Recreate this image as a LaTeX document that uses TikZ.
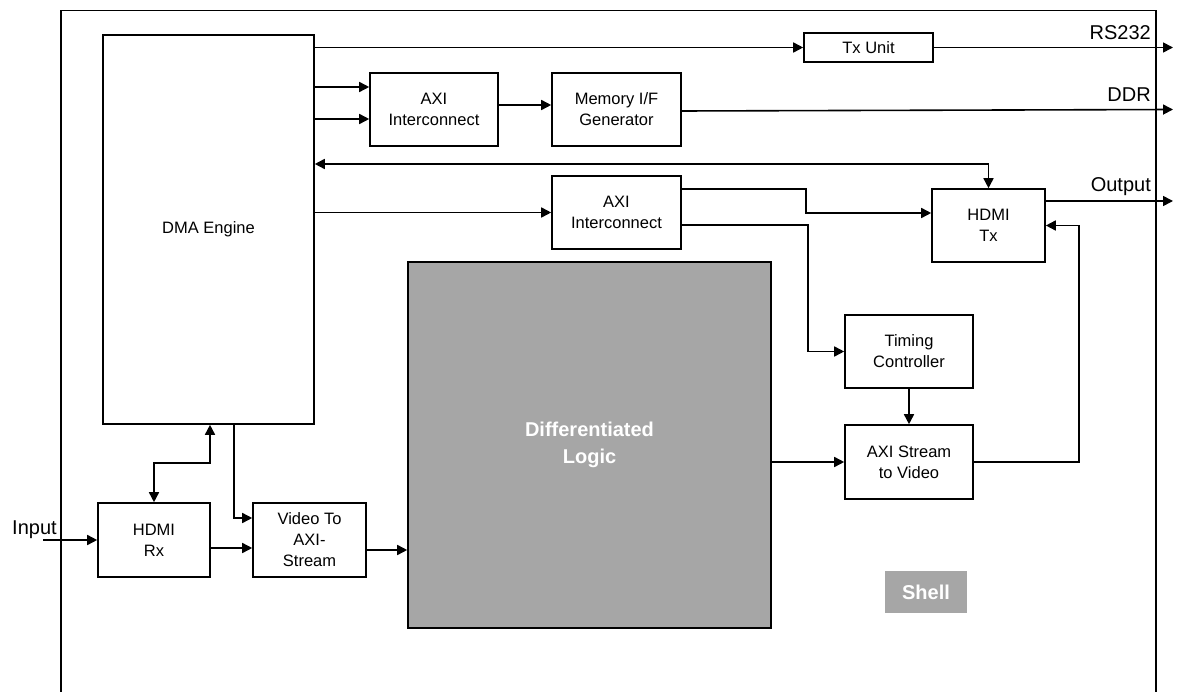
\documentclass[tikz,border=0pt]{standalone}
\usepackage{fontspec}
\setmainfont{Liberation Sans}
\usepackage{tikz}
\usetikzlibrary{calc,arrows.meta}
\definecolor{logicgray}{HTML}{A6A6A6}

\begin{document}
\begin{tikzpicture}[x=1pt,y=-1pt,
		blk/.style={draw,line width=1.6pt,inner sep=0pt,align=center,
			font=\fontsize{16.5}{21}\selectfont},
		arr/.style={line width=1.6pt,-{Triangle[length=10pt,width=10pt]}},
		arrs/.style={line width=1.6pt,{Triangle[length=10pt,width=10pt]}-{Triangle[length=10pt,width=10pt]}},
		lbl/.style={font=\fontsize{20}{24}\selectfont,inner sep=0pt}]
			\useasboundingbox (0,0) rectangle (1177,692);
			%shell frame
			\draw[line width=1.5pt] (61,10.5) rectangle (1156,710);
			
			%blocks
			\node[blk,minimum width=211pt,minimum height=389pt] (dma) at (208.5,229.5) {DMA Engine};
			\node[blk,minimum width=129pt,minimum height=29pt] (txu) at (868.5,47.5) {Tx Unit};
			\node[blk,minimum width=128pt,minimum height=73pt] (axia) at (434,109.5) {AXI\\Interconnect};
			\node[blk,minimum width=129pt,minimum height=73pt] (mem) at (616.5,109.5) {Memory I/F\\Generator};
			\node[blk,minimum width=129pt,minimum height=73pt] (axib) at (616.5,212.5) {AXI\\Interconnect};
			\node[blk,minimum width=113pt,minimum height=73pt] (hdmitx) at (988.5,225.5) {HDMI\\Tx};
			\node[blk,minimum width=128pt,minimum height=73pt] (timing) at (909,351.5) {Timing\\Controller};
			\node[blk,minimum width=128pt,minimum height=74pt] (a2v) at (909,462) {AXI Stream\\to Video};
			\node[blk,fill=logicgray,text=white,minimum width=363pt,minimum height=366pt,
				font=\fontsize{20}{27}\selectfont\bfseries] (diff) at (589.5,445) {Differentiated\\Logic};
			\node[blk,minimum width=112pt,minimum height=74pt] (hdmirx) at (154,540) {HDMI\\Rx};
			\node[blk,minimum width=113pt,minimum height=74pt] (v2a) at (309.5,540) {Video To\\AXI-\\Stream};
			\node[fill=logicgray,text=white,minimum width=82pt,minimum height=42pt,inner sep=0pt,
				font=\fontsize{20}{24}\selectfont\bfseries] (shell) at (926,592) {Shell};
			
			%ports
			\coordinate (rsout) at (1173,47.5);
			\coordinate (ddrout) at (1173,109.5);
			\coordinate (vidout) at (1173,201);
			\coordinate (vidin) at (43,540);
			\node[lbl,anchor=base east] (rslbl) at (1151,40) {RS232};
			\node[lbl,anchor=base east] (ddrlbl) at (1151,101.5) {DDR};
			\node[lbl,anchor=base east] (outlbl) at (1151,191.5) {Output};
			\node[lbl,anchor=base west] (inlbl) at (12,534) {Input};
			
			%dma side
			\draw[arr] (dma.east |- txu) -- (txu.west);
			\draw[arr] (txu.east) -- (rsout);
			\draw[arr] (dma.east |- {$(axia.west)+(0,-22.5)$}) -- ($(axia.west)+(0,-22.5)$);
			\draw[arr] (dma.east |- {$(axia.west)+(0,9.5)$}) -- ($(axia.west)+(0,9.5)$);
			\draw[arr] ([yshift=4.5pt]axia.east) -- ([yshift=4.5pt]mem.west);
			\draw[arr] ([yshift=-1.5pt]mem.east) -- (ddrout);
			\coordinate (bus) at (988.5,164);
			\draw[arrs] (dma.east |- bus) -| (hdmitx.north);
			\draw[arr] (dma.east |- axib) -- (axib.west);
			
			%video out
			\draw[arr] ([yshift=23.5pt]axib.east) -- ++(124,0) |- ([yshift=12.5pt]hdmitx.west);
			\draw[arr] ([yshift=-12.5pt]axib.east) -- ++(126,0) |- (timing.west);
			\draw[arr] (timing) -- (a2v);
			\draw[arr] (diff.east |- a2v) -- (a2v.west);
			\draw[arr] (a2v.east) -- ++(105,0) |- (hdmitx.east);
			\draw[arr] ([yshift=24.5pt]hdmitx.east) -- (vidout);
			
			%video in
			\draw[arr] (vidin) -- (hdmirx.west);
			\draw[arr] ([yshift=-8pt]hdmirx.east) -- ([yshift=-8pt]v2a.west);
			\draw[arr] ([yshift=-10pt]v2a.east) -- (diff.west |- {$(v2a.east)+(0,10)$});
			\draw[arrs] (hdmirx.north) -- ++(0,-39) -| ([xshift=1.5pt]dma.south);
			\draw[arr] ([xshift=25.5pt]dma.south) |- ([yshift=22pt]v2a.west);
			\end{tikzpicture}
\end{document}
